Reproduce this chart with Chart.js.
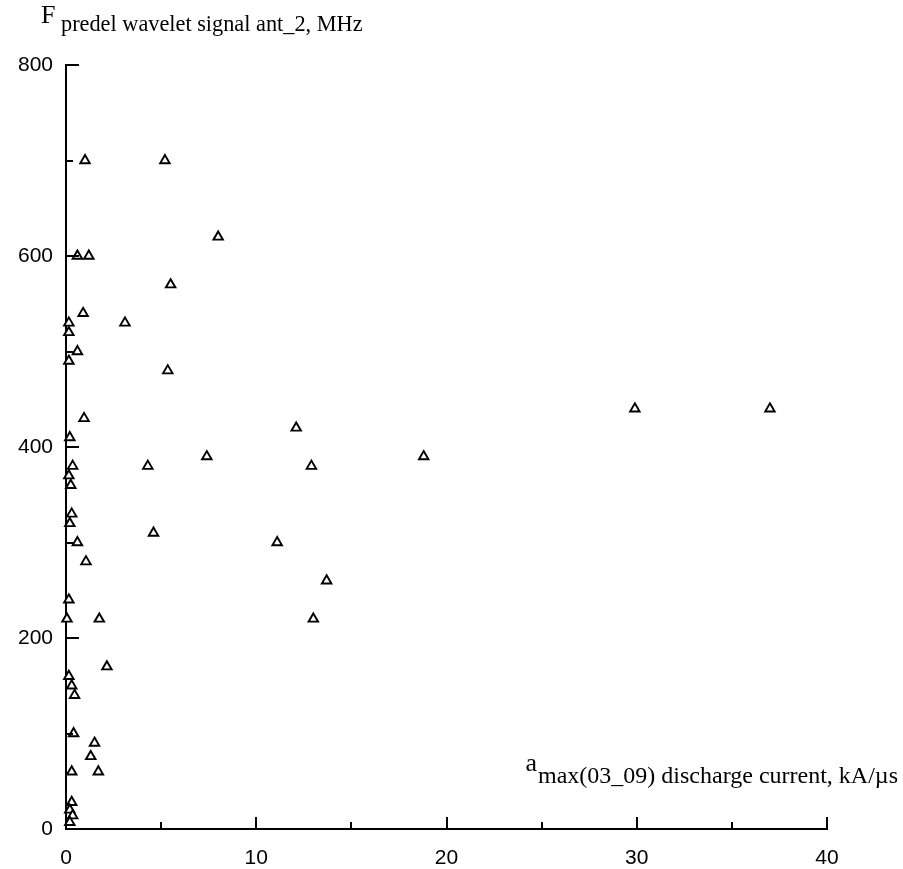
<!DOCTYPE html>
<html lang="en">
<head>
  <meta charset="UTF-8" />
  <title>Fpredel vs amax</title>
  <script src="https://cdn.jsdelivr.net/npm/chart.js"></script>
  <style>
    body {
      margin: 0;
      background: #fff;
    }
    .wrap {
      position: relative;
      width: 903px;
      height: 869px;
    }
  </style>
</head>
<body>
  <div class="wrap">
    <canvas id="scatterChart"></canvas>
  </div>

  <script>
    // amax(03_09) discharge current, kA/us
    const currentRate = [1.0, 5.2, 8.0, 0.6, 1.2, 5.5, 0.9, 0.15, 3.1, 0.15, 0.6, 0.15, 5.35, 0.95, 12.1,
      0.2, 7.4, 0.35, 4.3, 12.9, 0.15, 0.25, 0.3, 0.2, 4.6, 0.6, 11.1, 18.8, 29.9, 37.0,
      13.7, 13.0, 1.05, 0.15, 0.05, 1.75, 2.15, 0.15, 0.3, 0.45, 0.4, 1.5, 1.3, 0.3, 1.7,
      0.3, 0.2, 0.35, 0.2];
    // Fpredel wavelet signal ant_2, MHz
    const fPredel = [700, 700, 620, 600, 600, 570, 540, 530, 530, 520, 500, 490, 480, 430, 420,
      410, 390, 380, 380, 380, 370, 360, 330, 320, 310, 300, 300, 390, 440, 440,
      260, 220, 280, 240, 220, 220, 170, 160, 150, 140, 100, 90, 76, 60, 60,
      28, 20, 14, 7];

    const xTickLabels = [0, 10, 20, 30, 40];
    const yTickLabels = [0, 200, 400, 600, 800];

    const points = currentRate.map((x, i) => ({ x, y: fPredel[i] }));

    // inward tick marks (major = labelled, minor = in between)
    const tickMarks = {
      id: 'tickMarks',
      afterDraw(chart) {
        const ctx = chart.ctx;
        const xs = chart.scales.x, ys = chart.scales.y;
        const area = chart.chartArea;
        ctx.save();
        ctx.strokeStyle = '#000';
        ctx.lineWidth = 2;
        ys.ticks.forEach(t => {
          const py = Math.round(ys.getPixelForValue(t.value));
          const len = yTickLabels.includes(t.value) ? 13 : 7;
          ctx.beginPath();
          ctx.moveTo(area.left, py);
          ctx.lineTo(area.left + len, py);
          ctx.stroke();
        });
        xs.ticks.forEach(t => {
          const px = Math.round(xs.getPixelForValue(t.value));
          const len = xTickLabels.includes(t.value) ? 12 : 7;
          ctx.beginPath();
          ctx.moveTo(px, area.bottom);
          ctx.lineTo(px, area.bottom - len);
          ctx.stroke();
        });
        ctx.restore();
      }
    };

    // axis titles with subscripts
    const axisTitles = {
      id: 'axisTitles',
      afterDraw(chart) {
        const ctx = chart.ctx;
        const serif = '"Liberation Serif", "Times New Roman", serif';
        ctx.save();
        ctx.fillStyle = '#000';
        ctx.textBaseline = 'alphabetic';

        ctx.font = '26px ' + serif;
        ctx.fillText('F', 41, 23);
        ctx.font = '22.3px ' + serif;
        ctx.fillText('predel wavelet signal ant_2, MHz', 61, 31);

        ctx.font = '24px ' + serif;
        const sub = 'max(03_09) discharge current, kA/\u00b5s';
        const sw = ctx.measureText(sub).width;
        ctx.fillText(sub, 898 - sw, 783);
        ctx.font = '26px ' + serif;
        const aw = ctx.measureText('a').width;
        ctx.fillText('a', 898 - sw - aw - 1, 771);
        ctx.restore();
      }
    };

    const tickFont = { family: '"Liberation Sans", Arial, sans-serif', size: 21 };

    new Chart(document.getElementById('scatterChart'), {
      type: 'scatter',
      data: {
        datasets: [{
          data: points,
          pointStyle: 'triangle',
          pointRadius: 5.5,
          pointBorderWidth: 1.9,
          borderColor: '#000',
          backgroundColor: '#fff',
          clip: false
        }]
      },
      options: {
        responsive: true,
        maintainAspectRatio: false,
        animation: false,
        layout: { padding: { top: 65, right: 76, left: 0, bottom: 0 } },
        plugins: {
          legend: { display: false },
          tooltip: { enabled: false }
        },
        scales: {
          x: {
            type: 'linear',
            min: 0,
            max: 40,
            grid: { display: false, drawTicks: false },
            border: { display: true, color: '#000', width: 2 },
            afterFit: s => { s.height = 40; },
            ticks: {
              stepSize: 5,
              autoSkip: false,
              maxRotation: 0,
              padding: 17,
              color: '#000',
              font: tickFont,
              callback: v => xTickLabels.includes(v) ? v : ''
            }
          },
          y: {
            type: 'linear',
            min: 0,
            max: 800,
            grid: { display: false, drawTicks: false },
            border: { display: true, color: '#000', width: 2 },
            afterFit: s => { s.width = 66; },
            ticks: {
              stepSize: 100,
              autoSkip: false,
              padding: 13,
              color: '#000',
              font: tickFont,
              callback: v => yTickLabels.includes(v) ? v : ''
            }
          }
        }
      },
      plugins: [tickMarks, axisTitles]
    });
  </script>
</body>
</html>
